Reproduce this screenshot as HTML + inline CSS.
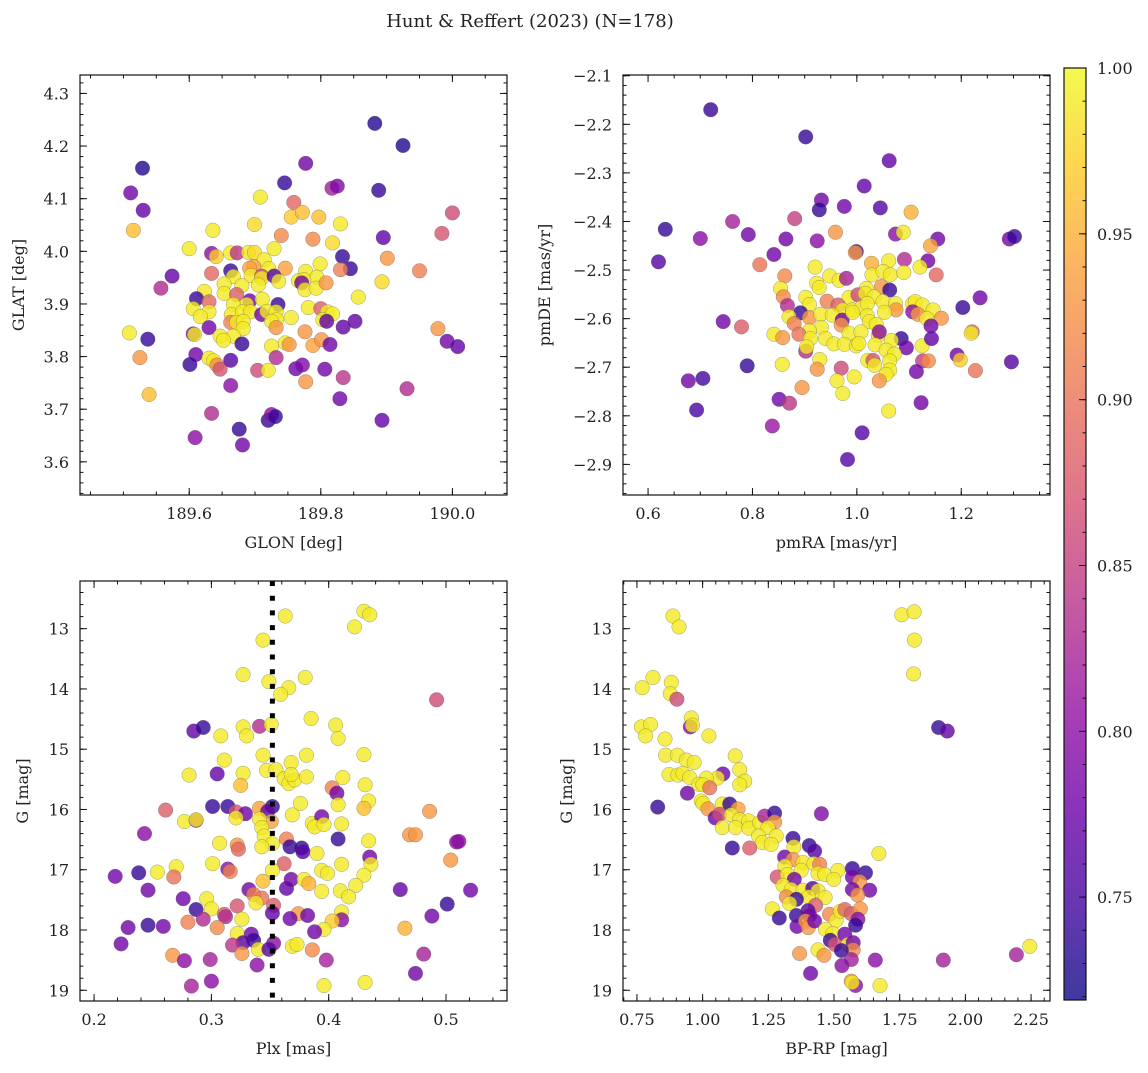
<!DOCTYPE html>
<html><head><meta charset="utf-8"><style>
body{margin:0;background:#fff;}
svg text{font-family:"DejaVu Serif","Liberation Serif",serif;fill:#222;}
</style></head><body>
<svg id="fig" width="1148" height="1068" viewBox="0 0 1148 1068" xmlns="http://www.w3.org/2000/svg">
<text x="530" y="27" font-size="18" text-anchor="middle">Hunt &amp; Reffert (2023) (N=178)</text>
</svg>
<script>
// ---- data: panel 1 (GLON vs GLAT)
const glon=[189.882,189.925,189.529,189.777,189.511,189.530,189.745,189.817,189.825,189.888,190.000,189.984,189.895,189.901,189.950,189.893,189.857,189.833,189.845,189.830,189.515,189.708,189.636,189.699,189.759,189.755,189.772,189.797,189.830,189.818,189.788,189.740,189.600,189.634,189.641,189.663,189.673,189.690,189.699,189.729,189.714,189.721,189.698,189.692,189.746,189.799,189.777,189.794,189.574,189.557,189.634,189.663,189.667,189.653,189.680,189.694,189.710,189.710,189.705,189.729,189.736,189.766,189.774,189.771,189.776,189.793,189.808,189.623,189.611,189.653,189.630,189.672,189.692,189.711,189.687,189.735,189.667,189.606,189.630,189.617,189.664,189.681,189.693,189.710,189.718,189.732,189.733,189.755,189.781,189.800,189.810,189.818,189.803,189.809,189.630,189.606,189.608,189.663,189.672,189.682,189.682,189.667,189.647,189.652,189.680,189.725,189.732,189.725,189.746,189.752,189.776,189.788,189.801,189.814,189.834,189.852,189.509,189.537,189.525,189.610,189.601,189.630,189.637,189.642,189.647,189.663,189.732,189.704,189.720,189.762,189.772,189.806,189.777,189.834,189.663,189.539,189.829,189.931,189.978,189.992,190.008,189.893,189.634,189.720,189.725,189.731,189.676,189.609,189.681];
const glat=[4.243,4.201,4.158,4.167,4.111,4.078,4.130,4.120,4.124,4.116,4.073,4.034,4.026,3.987,3.963,3.942,3.913,3.990,3.967,3.965,4.040,4.103,4.040,4.051,4.093,4.065,4.074,4.065,4.052,4.016,4.023,4.030,4.005,3.996,3.990,3.997,3.997,3.998,3.998,4.005,3.984,3.967,3.971,3.968,3.968,3.976,3.962,3.951,3.953,3.930,3.958,3.963,3.952,3.938,3.935,3.954,3.953,3.949,3.936,3.953,3.943,3.944,3.946,3.940,3.927,3.930,3.940,3.924,3.910,3.920,3.904,3.918,3.906,3.909,3.899,3.899,3.899,3.891,3.885,3.876,3.880,3.885,3.885,3.880,3.886,3.885,3.870,3.874,3.893,3.891,3.885,3.881,3.870,3.867,3.855,3.843,3.842,3.865,3.865,3.867,3.853,3.839,3.839,3.831,3.824,3.867,3.855,3.820,3.826,3.823,3.847,3.821,3.832,3.823,3.856,3.867,3.845,3.833,3.798,3.804,3.785,3.797,3.792,3.784,3.776,3.793,3.798,3.774,3.774,3.777,3.784,3.776,3.752,3.760,3.745,3.728,3.720,3.739,3.853,3.829,3.819,3.679,3.692,3.679,3.690,3.686,3.662,3.646,3.632];
const prob1=[0.73,0.73,0.73,0.78,0.78,0.77,0.74,0.82,0.79,0.74,0.86,0.87,0.77,0.93,0.91,0.98,0.99,0.74,0.74,0.91,0.96,0.99,0.99,0.98,0.89,0.97,0.96,0.96,0.99,0.98,0.92,0.92,0.99,0.8,0.97,0.99,0.84,0.99,0.98,0.99,0.99,0.99,0.94,0.94,0.94,0.99,0.99,0.99,0.77,0.83,0.89,0.74,0.99,0.99,0.99,0.99,0.86,0.99,0.99,0.76,0.99,0.99,0.99,0.78,0.99,0.99,0.93,0.99,0.74,0.99,0.89,0.88,0.78,0.99,0.99,0.74,0.99,0.99,0.99,0.99,0.99,0.99,0.99,0.78,0.99,0.99,0.99,0.99,0.99,0.88,0.99,0.99,0.99,0.77,0.78,0.78,0.99,0.91,0.99,0.99,0.99,0.99,0.99,0.99,0.74,0.99,0.93,0.99,0.99,0.93,0.93,0.94,0.93,0.78,0.77,0.77,0.99,0.74,0.93,0.78,0.74,0.99,0.99,0.92,0.87,0.76,0.83,0.86,0.99,0.78,0.79,0.78,0.93,0.84,0.8,0.96,0.78,0.83,0.93,0.78,0.77,0.77,0.83,0.74,0.8,0.74,0.74,0.8,0.78];
// ---- panel 2 (pmRA vs pmDE)
const pmra=[0.720,0.902,1.062,1.014,0.932,0.928,0.976,1.045,1.104,0.633,0.762,0.881,0.700,0.792,0.864,0.924,0.959,1.074,1.089,1.155,1.141,1.292,1.302,0.620,0.841,0.999,0.997,0.814,0.862,0.920,1.028,1.061,1.091,1.136,1.121,1.152,0.948,0.966,0.980,0.923,0.928,1.029,1.050,1.064,1.090,1.018,1.047,1.063,0.854,0.859,0.902,0.985,1.002,1.016,1.033,0.943,0.964,0.867,0.909,0.973,0.991,1.009,1.020,1.050,1.074,1.075,1.107,1.112,1.126,1.107,1.117,1.146,1.162,1.134,1.142,1.203,1.236,0.892,0.870,0.909,0.880,0.931,0.953,0.972,0.992,1.020,1.024,1.053,1.037,0.970,0.932,0.909,0.841,0.858,0.889,0.911,0.940,0.985,1.008,1.041,1.043,1.085,1.066,1.095,1.125,1.143,1.221,1.219,0.744,0.779,0.956,0.976,0.999,1.004,1.035,0.902,0.904,1.056,1.072,0.929,1.021,1.031,1.063,1.034,1.063,1.126,1.137,1.192,1.198,1.227,1.296,0.857,0.790,0.924,0.970,1.114,1.056,1.043,0.995,0.962,0.973,0.895,0.677,0.705,0.851,0.871,0.693,1.061,1.123,0.838,1.010,0.982];
const pmde=[-2.170,-2.226,-2.275,-2.327,-2.356,-2.376,-2.369,-2.372,-2.381,-2.416,-2.400,-2.394,-2.435,-2.427,-2.436,-2.440,-2.422,-2.426,-2.422,-2.436,-2.450,-2.436,-2.431,-2.483,-2.468,-2.462,-2.464,-2.489,-2.512,-2.494,-2.486,-2.481,-2.478,-2.481,-2.494,-2.510,-2.512,-2.521,-2.517,-2.527,-2.536,-2.510,-2.503,-2.510,-2.505,-2.538,-2.534,-2.541,-2.538,-2.555,-2.556,-2.556,-2.551,-2.548,-2.555,-2.564,-2.572,-2.573,-2.571,-2.582,-2.582,-2.577,-2.569,-2.565,-2.569,-2.582,-2.569,-2.565,-2.572,-2.586,-2.591,-2.582,-2.599,-2.600,-2.615,-2.577,-2.557,-2.588,-2.596,-2.598,-2.610,-2.591,-2.593,-2.603,-2.587,-2.594,-2.606,-2.587,-2.612,-2.613,-2.618,-2.625,-2.632,-2.639,-2.632,-2.641,-2.641,-2.630,-2.627,-2.634,-2.627,-2.641,-2.645,-2.660,-2.656,-2.641,-2.627,-2.630,-2.606,-2.617,-2.652,-2.653,-2.656,-2.651,-2.654,-2.667,-2.658,-2.665,-2.673,-2.684,-2.686,-2.686,-2.687,-2.696,-2.706,-2.687,-2.687,-2.675,-2.685,-2.707,-2.689,-2.694,-2.697,-2.704,-2.702,-2.709,-2.715,-2.728,-2.720,-2.728,-2.754,-2.742,-2.728,-2.723,-2.766,-2.774,-2.788,-2.790,-2.773,-2.821,-2.835,-2.890];
const prob2=[0.74,0.74,0.77,0.77,0.78,0.74,0.78,0.76,0.95,0.74,0.82,0.85,0.8,0.78,0.78,0.8,0.93,0.8,0.99,0.78,0.94,0.78,0.74,0.76,0.78,0.74,0.93,0.9,0.92,0.99,0.95,0.99,0.83,0.78,0.99,0.89,0.99,0.99,0.82,0.99,0.99,0.99,0.99,0.99,0.99,0.99,0.93,0.74,0.99,0.92,0.99,0.99,0.86,0.99,0.99,0.91,0.88,0.83,0.99,0.99,0.99,0.99,0.99,0.99,0.99,0.93,0.99,0.99,0.99,0.8,0.93,0.99,0.93,0.99,0.78,0.74,0.78,0.74,0.99,0.93,0.91,0.99,0.99,0.78,0.99,0.99,0.99,0.99,0.99,0.93,0.99,0.99,0.99,0.93,0.9,0.99,0.99,0.99,0.99,0.99,0.8,0.74,0.99,0.78,0.99,0.77,0.89,0.99,0.78,0.88,0.99,0.99,0.99,0.99,0.99,0.83,0.99,0.99,0.99,0.99,0.99,0.87,0.99,0.99,0.99,0.85,0.92,0.78,0.97,0.9,0.76,0.99,0.74,0.93,0.86,0.78,0.99,0.93,0.99,0.99,0.99,0.93,0.78,0.75,0.78,0.84,0.75,0.99,0.78,0.81,0.76,0.76];
// ---- panel 3 (Plx vs G)
const plx=[0.363,0.430,0.435,0.422,0.344,0.327,0.349,0.380,0.366,0.359,0.492,0.385,0.285,0.293,0.308,0.327,0.330,0.341,0.351,0.406,0.408,0.311,0.344,0.368,0.381,0.430,0.281,0.305,0.327,0.325,0.347,0.355,0.362,0.366,0.371,0.368,0.381,0.412,0.431,0.403,0.407,0.376,0.408,0.434,0.430,0.486,0.261,0.301,0.314,0.321,0.329,0.321,0.341,0.352,0.348,0.369,0.351,0.341,0.343,0.345,0.277,0.287,0.287,0.243,0.386,0.394,0.388,0.396,0.411,0.469,0.474,0.509,0.511,0.504,0.408,0.364,0.352,0.343,0.367,0.377,0.378,0.322,0.323,0.307,0.390,0.434,0.435,0.411,0.436,0.362,0.301,0.270,0.314,0.316,0.352,0.394,0.399,0.218,0.238,0.254,0.268,0.430,0.368,0.379,0.344,0.383,0.364,0.423,0.246,0.332,0.394,0.410,0.417,0.461,0.521,0.276,0.296,0.336,0.343,0.338,0.353,0.322,0.287,0.300,0.501,0.488,0.352,0.374,0.382,0.411,0.311,0.312,0.367,0.411,0.403,0.326,0.293,0.280,0.229,0.246,0.259,0.305,0.396,0.465,0.388,0.322,0.334,0.336,0.327,0.318,0.353,0.223,0.340,0.349,0.326,0.369,0.373,0.386,0.267,0.277,0.299,0.339,0.398,0.481,0.474,0.283,0.300,0.396,0.431];
const gmag3=[12.79,12.71,12.77,12.97,13.19,13.76,13.88,13.81,13.98,14.09,14.18,14.49,14.70,14.64,14.78,14.63,14.78,14.62,14.59,14.60,14.82,15.18,15.10,15.22,15.10,15.09,15.43,15.41,15.40,15.60,15.35,15.34,15.49,15.57,15.51,15.42,15.46,15.47,15.59,15.64,15.73,15.90,15.92,15.86,15.98,16.03,16.01,15.95,15.95,16.04,16.07,16.14,15.98,15.95,16.03,16.09,16.20,16.16,16.30,16.44,16.20,16.18,16.17,16.40,16.23,16.12,16.29,16.25,16.24,16.42,16.42,16.54,16.53,16.84,16.49,16.49,16.57,16.62,16.62,16.64,16.70,16.59,16.66,16.56,16.73,16.52,16.79,16.91,16.91,16.90,16.90,16.95,16.99,17.03,17.01,17.01,17.06,17.11,17.05,17.04,17.12,17.09,17.16,17.16,17.19,17.23,17.31,17.26,17.34,17.33,17.36,17.35,17.45,17.33,17.34,17.48,17.48,17.41,17.47,17.55,17.59,17.60,17.66,17.65,17.57,17.77,17.72,17.73,17.76,17.70,17.74,17.78,17.81,17.83,17.85,17.82,17.82,17.87,17.96,17.92,17.94,17.96,17.99,17.97,18.03,18.06,18.07,18.17,18.21,18.25,18.22,18.23,18.32,18.32,18.39,18.27,18.24,18.33,18.42,18.51,18.49,18.58,18.50,18.40,18.72,18.93,18.85,18.92,18.87];
const prob3=[0.99,0.99,0.99,0.99,0.99,0.99,0.99,0.99,0.99,0.99,0.86,0.99,0.77,0.74,0.99,0.99,0.99,0.83,0.99,0.99,0.99,0.99,0.99,0.99,0.99,0.99,0.99,0.77,0.99,0.96,0.99,0.99,0.99,0.99,0.99,0.99,0.99,0.99,0.99,0.91,0.78,0.99,0.99,0.99,0.96,0.93,0.88,0.74,0.74,0.87,0.78,0.99,0.94,0.74,0.77,0.99,0.94,0.99,0.99,0.99,0.99,0.8,0.99,0.8,0.99,0.78,0.99,0.99,0.99,0.93,0.93,0.8,0.8,0.93,0.74,0.91,0.99,0.99,0.74,0.74,0.76,0.93,0.89,0.99,0.99,0.99,0.78,0.99,0.99,0.88,0.99,0.99,0.8,0.91,0.99,0.99,0.99,0.78,0.74,0.99,0.9,0.99,0.78,0.99,0.96,0.95,0.77,0.99,0.78,0.78,0.99,0.99,0.99,0.77,0.78,0.78,0.99,0.91,0.9,0.99,0.88,0.87,0.74,0.99,0.74,0.78,0.77,0.93,0.78,0.99,0.88,0.83,0.78,0.8,0.97,0.99,0.83,0.91,0.78,0.74,0.78,0.92,0.99,0.95,0.78,0.99,0.78,0.74,0.76,0.84,0.8,0.78,0.99,0.76,0.93,0.99,0.99,0.92,0.93,0.8,0.82,0.8,0.82,0.82,0.78,0.82,0.8,0.99,0.99];
const plxCut=0.352;
// ---- panel 4 (BP-RP vs G)
const bprp=[0.887,0.910,1.758,1.805,1.806,1.803,0.770,0.811,0.881,0.877,0.902,1.898,1.931,0.767,0.802,0.783,0.957,0.953,0.961,0.857,1.024,1.124,0.859,0.904,0.938,0.968,1.141,1.160,1.141,0.872,0.906,0.925,0.951,1.077,1.056,1.014,0.986,1.001,1.027,0.942,0.829,0.995,1.001,1.020,1.075,1.103,1.135,1.048,1.065,1.109,1.141,1.075,1.126,1.175,1.176,1.217,1.236,1.274,1.274,1.249,1.280,1.213,1.227,1.261,1.113,1.179,1.452,1.344,1.347,1.406,1.426,1.671,1.312,1.344,1.382,1.423,1.445,1.313,1.375,1.439,1.465,1.515,1.499,1.570,1.570,1.620,1.598,1.636,1.284,1.322,1.349,1.306,1.337,1.382,1.419,1.439,1.403,1.466,1.570,1.590,1.319,1.357,1.331,1.430,1.265,1.292,1.357,1.359,1.401,1.407,1.392,1.402,1.426,1.483,1.508,1.524,1.541,1.566,1.600,1.591,1.582,1.468,1.495,1.486,1.504,1.541,1.553,1.573,1.573,1.528,1.369,1.439,1.462,1.566,1.530,1.657,1.411,1.566,1.582,1.569,1.675,1.916,2.194,2.245];
const gmag4=[12.79,12.97,12.77,12.72,13.19,13.75,13.98,13.81,13.89,14.08,14.17,14.64,14.70,14.63,14.59,14.78,14.48,14.63,14.60,14.83,14.78,15.11,15.10,15.10,15.18,15.22,15.34,15.53,15.59,15.42,15.43,15.40,15.47,15.41,15.48,15.48,15.58,15.59,15.64,15.73,15.96,15.86,15.90,15.99,15.91,15.91,15.99,16.14,16.08,16.09,16.17,16.30,16.30,16.19,16.31,16.22,16.11,16.06,16.21,16.30,16.44,16.44,16.55,16.58,16.64,16.64,16.07,16.48,16.62,16.60,16.69,16.73,16.79,16.83,16.88,16.90,16.91,16.94,17.01,17.06,17.08,17.01,17.16,16.98,17.12,17.05,17.20,17.34,17.12,17.08,17.16,17.26,17.33,17.34,17.31,17.35,17.45,17.46,17.33,17.42,17.45,17.49,17.56,17.59,17.65,17.80,17.76,17.94,17.68,17.76,17.85,17.96,17.85,17.74,17.84,17.69,17.66,17.73,17.65,17.82,17.92,17.99,18.06,18.17,18.24,18.07,18.24,18.21,18.33,18.34,18.39,18.33,18.42,18.49,18.59,18.50,18.72,18.85,18.92,18.87,18.92,18.50,18.41,18.27];
const prob4=[0.99,0.99,0.99,0.99,0.99,0.99,0.99,0.99,0.99,0.99,0.86,0.74,0.77,0.99,0.99,0.99,0.99,0.8,0.99,0.99,0.99,0.99,0.99,0.99,0.99,0.99,0.99,0.99,0.99,0.99,0.99,0.99,0.99,0.78,0.99,0.99,0.99,0.99,0.9,0.78,0.74,0.99,0.99,0.93,0.99,0.74,0.94,0.78,0.86,0.99,0.99,0.99,0.99,0.99,0.99,0.99,0.82,0.74,0.93,0.99,0.99,0.99,0.99,0.99,0.74,0.88,0.79,0.74,0.99,0.74,0.76,0.99,0.78,0.93,0.99,0.99,0.91,0.99,0.99,0.99,0.99,0.99,0.99,0.74,0.78,0.74,0.93,0.78,0.87,0.99,0.78,0.99,0.99,0.99,0.76,0.99,0.99,0.99,0.78,0.93,0.92,0.74,0.99,0.88,0.99,0.74,0.74,0.78,0.76,0.78,0.93,0.93,0.78,0.92,0.99,0.99,0.89,0.88,0.93,0.8,0.74,0.99,0.99,0.74,0.87,0.78,0.99,0.78,0.92,0.74,0.93,0.99,0.93,0.82,0.8,0.8,0.78,0.93,0.8,0.99,0.99,0.82,0.82,0.99];
// ---- colorbar
const cbMin=0.719, cbMax=1.0;
const cbTicks=[0.75,0.80,0.85,0.90,0.95,1.00];

const NS='http://www.w3.org/2000/svg';
const svg=document.getElementById('fig');
function mk(tag,attrs,parent){const e=document.createElementNS(NS,tag);for(const k in attrs)e.setAttribute(k,attrs[k]);(parent||svg).appendChild(e);return e;}
const stops=[[0,'#0d0887'],[0.1,'#41049d'],[0.2,'#6a00a8'],[0.3,'#8f0da4'],[0.4,'#b12a90'],[0.5,'#cc4778'],[0.6,'#e16462'],[0.7,'#f2844b'],[0.8,'#fca636'],[0.9,'#fcce25'],[1,'#f0f921']];
function hex(h){return [1,3,5].map(i=>parseInt(h.substr(i,2),16));}
function plasma(t){t=Math.max(0,Math.min(1,t));for(let i=1;i<stops.length;i++){if(t<=stops[i][0]){const a=stops[i-1],b=stops[i];const f=(t-a[0])/(b[0]-a[0]);const ca=hex(a[1]),cb=hex(b[1]);return 'rgb('+ca.map((v,j)=>Math.round(v+(cb[j]-v)*f)).join(',')+')';}}return stops[stops.length-1][1];}
function cmap(p){return plasma((p-cbMin)/(cbMax-cbMin));}

function panel(cfg){
  const g=mk('g',{});
  
  
  const X=v=>cfg.x0+(v-cfg.xd[0])/(cfg.xd[1]-cfg.xd[0])*(cfg.x1-cfg.x0);
  const Y=v=>cfg.y0+(v-cfg.yd[0])/(cfg.yd[1]-cfg.yd[0])*(cfg.y1-cfg.y0);
  const clip=mk('clipPath',{id:'c'+cfg.name},g);
  mk('rect',{x:cfg.x0,y:cfg.y0,width:cfg.x1-cfg.x0,height:cfg.y1-cfg.y0},clip);
  const pts=mk('g',{'clip-path':'url(#c'+cfg.name+')'},g);
  const n=Math.min(cfg.xs.length,cfg.ys.length,cfg.ps.length);
  for(let i=0;i<n;i++){
    const c=mk('circle',{cx:X(cfg.xs[i]).toFixed(1),cy:Y(cfg.ys[i]).toFixed(1),r:7.3,fill:cmap(cfg.ps[i]),'fill-opacity':0.8,stroke:'#555','stroke-opacity':0.55,'stroke-width':0.5},pts);
    
    
  }
  if(cfg.vline!==undefined){
    const l=mk('line',{x1:X(cfg.vline),x2:X(cfg.vline),y1:cfg.y0,y2:cfg.y1,stroke:'#000','stroke-width':5,'stroke-dasharray':'5 9.7'},pts);
    
    
  }
  const frame=mk('rect',{x:cfg.x0,y:cfg.y0,width:cfg.x1-cfg.x0,height:cfg.y1-cfg.y0,fill:'none',stroke:'#111','stroke-width':1.2},g);
  
  
  const tk=mk('g',{stroke:'#111','stroke-width':1},g);
  // minor ticks
  const eps=1e-9;
  for(let v=Math.ceil(cfg.xd[0]/cfg.xmin-eps)*cfg.xmin; v<=cfg.xd[1]+eps; v+=cfg.xmin){const x=X(v);if(x<cfg.x0||x>cfg.x1)continue;mk('line',{x1:x,x2:x,y1:cfg.y1,y2:cfg.y1-3.5},tk);mk('line',{x1:x,x2:x,y1:cfg.y0,y2:cfg.y0+3.5},tk);}
  const ylo=Math.min(cfg.yd[0],cfg.yd[1]),yhi=Math.max(cfg.yd[0],cfg.yd[1]);
  for(let v=Math.ceil(ylo/cfg.ymin-eps)*cfg.ymin; v<=yhi+eps; v+=cfg.ymin){const y=Y(v);mk('line',{x1:cfg.x0,x2:cfg.x0+3.5,y1:y,y2:y},tk);mk('line',{x1:cfg.x1,x2:cfg.x1-3.5,y1:y,y2:y},tk);}
  cfg.xt.forEach(v=>{const x=X(v);mk('line',{x1:x,x2:x,y1:cfg.y1,y2:cfg.y1-7},tk);mk('line',{x1:x,x2:x,y1:cfg.y0,y2:cfg.y0+7},tk);
    const t=mk('text',{x:x,y:cfg.y1+24,'font-size':16,'text-anchor':'middle'},g);t.textContent=v.toFixed(cfg.xdec);
    
    });
  cfg.yt.forEach(v=>{const y=Y(v);mk('line',{x1:cfg.x0,x2:cfg.x0+7,y1:y,y2:y},tk);mk('line',{x1:cfg.x1,x2:cfg.x1-7,y1:y,y2:y},tk);
    const t=mk('text',{x:cfg.x0-11,y:y+6,'font-size':16,'text-anchor':'end'},g);t.textContent=(v<0?'\u2212':'')+Math.abs(v).toFixed(cfg.ydec);
    
    });
  const xl=mk('text',{x:(cfg.x0+cfg.x1)/2,y:cfg.y1+53,'font-size':16,'text-anchor':'middle'},g);xl.textContent=cfg.xlabel;
  
  
  const yc=(cfg.y0+cfg.y1)/2;
  const yl=mk('text',{x:cfg.ylx,y:yc,'font-size':16,'text-anchor':'middle',transform:'rotate(-90 '+cfg.ylx+' '+yc+')'},g);yl.textContent=cfg.ylabel;
  
  
}
panel({name:'panel-glon-glat',x0:80,x1:507,y0:75,y1:495,xd:[189.434,190.083],yd:[4.335,3.537],xs:glon,ys:glat,ps:prob1,xt:[189.6,189.8,190.0],xdec:1,xmin:0.05,yt:[3.6,3.7,3.8,3.9,4.0,4.1,4.2,4.3],ydec:1,ymin:0.02,xlabel:'GLON [deg]',ylabel:'GLAT [deg]',ylx:24});
panel({name:'panel-pm',x0:623,x1:1050,y0:75,y1:495,xd:[0.552,1.370],yd:[-2.0985,-2.963],xs:pmra,ys:pmde,ps:prob2,xt:[0.6,0.8,1.0,1.2],xdec:1,xmin:0.05,yt:[-2.9,-2.8,-2.7,-2.6,-2.5,-2.4,-2.3,-2.2,-2.1],ydec:1,ymin:0.02,xlabel:'pmRA [mas/yr]',ylabel:'pmDE [mas/yr]',ylx:550});
panel({name:'panel-plx-g',x0:80,x1:507,y0:581,y1:1001,xd:[0.188,0.552],yd:[12.209,19.178],xs:plx,ys:gmag3,ps:prob3,xt:[0.2,0.3,0.4,0.5],xdec:1,xmin:0.02,yt:[13,14,15,16,17,18,19],ydec:0,ymin:0.2,xlabel:'Plx [mas]',ylabel:'G [mag]',ylx:28,vline:plxCut});
panel({name:'panel-cmd',x0:623,x1:1050,y0:581,y1:1001,xd:[0.697,2.322],yd:[12.209,19.178],xs:bprp,ys:gmag4,ps:prob4,xt:[0.75,1.00,1.25,1.50,1.75,2.00,2.25],xdec:2,xmin:0.05,yt:[13,14,15,16,17,18,19],ydec:0,ymin:0.2,xlabel:'BP-RP [mag]',ylabel:'G [mag]',ylx:572});

// colorbar
const cb=mk('g',{});


const defs=mk('defs',{},cb);
const lg=mk('linearGradient',{id:'cbg',x1:0,y1:1,x2:0,y2:0},defs);
for(let i=0;i<=20;i++){mk('stop',{offset:(i/20),'stop-color':plasma(i/20),'stop-opacity':0.8},lg);}
const cbx0=1064,cbx1=1086,cby0=68,cby1=1000;
mk('rect',{x:cbx0,y:cby0,width:cbx1-cbx0,height:cby1-cby0,fill:'url(#cbg)',stroke:'#111','stroke-width':1.2},cb);
const CY=v=>cby1-(v-cbMin)/(cbMax-cbMin)*(cby1-cby0);
for(let v=0.72;v<=1.0001;v+=0.01){mk('line',{x1:cbx1,x2:cbx1-3.5,y1:CY(v),y2:CY(v),stroke:'#111'},cb);}
cbTicks.forEach(v=>{const y=CY(v);mk('line',{x1:cbx1,x2:cbx1-7,y1:y,y2:y,stroke:'#111'},cb);
  const t=mk('text',{x:1097,y:y+6,'font-size':16},cb);t.textContent=v.toFixed(2);
  
  });
</script>
</body></html>
